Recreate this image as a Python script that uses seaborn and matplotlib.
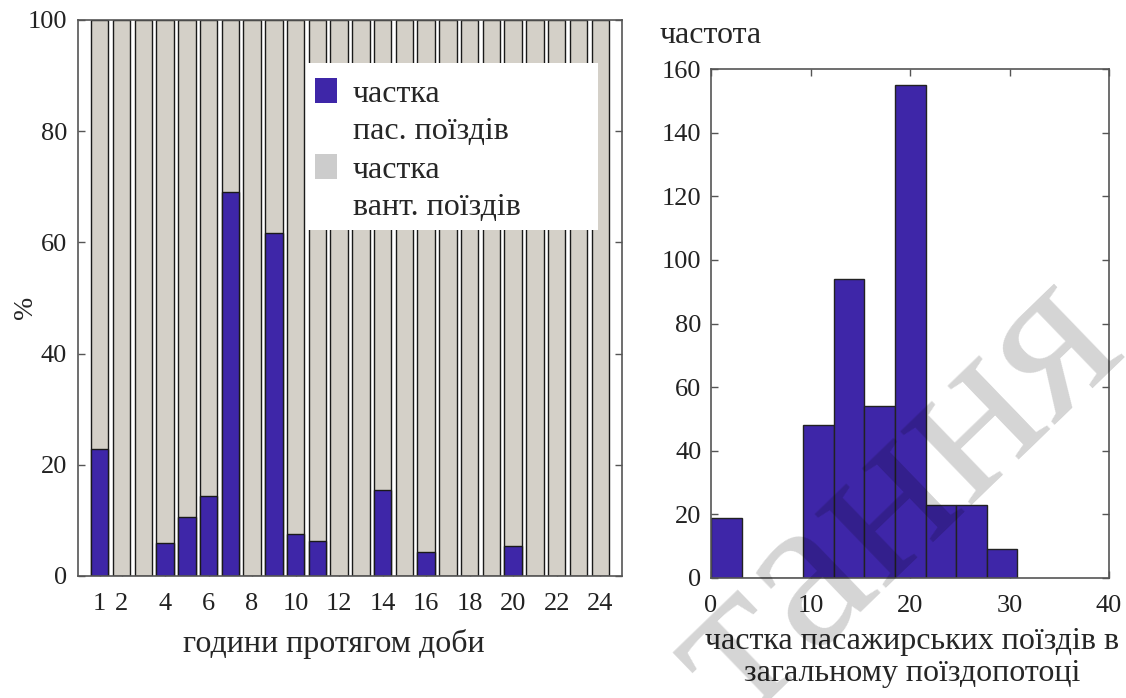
import numpy as np
import pandas as pd
import seaborn as sns
import matplotlib
matplotlib.use("Agg")
import matplotlib.pyplot as plt
from matplotlib.patches import Patch, Rectangle
from matplotlib.legend_handler import HandlerPatch

# ---- data -------------------------------------------------------------
hours = list(range(1, 25))
# share of passenger trains per hour of the day, %
passenger_share = [22.8, 0, 0, 6.0, 10.7, 14.4, 69.1, 0, 61.7, 7.5, 6.3, 0,
                   0, 15.5, 0, 4.3, 0, 0, 0, 5.4, 0, 0, 0, 0]
hour_ticks = [1, 2, 4, 6, 8, 10, 12, 14, 16, 18, 20, 22, 24]

# histogram of passenger share: 10 equal bins over [0, 30.8]
hist_edges = list(np.linspace(0, 30.8, 11))
hist_counts = [19, 0, 0, 48, 94, 54, 155, 23, 23, 9]

legend_labels = ["частка\nпас. поїздів", "частка\nвант. поїздів"]

# ---- style ------------------------------------------------------------
sns.set_style("ticks")
plt.rcParams["font.family"] = ["Liberation Serif", "DejaVu Serif"]

BLUE = "#3E26A8"
GRAY = "#D4D0C8"
LEG_GRAY = "#CCCCCC"
EDGE = "#1a1a1a"
SPINE = "#555555"
TICK_FS = 19
LABEL_FS = 23

W, H = 1126, 698
fig = plt.figure(figsize=(W / 100, H / 100), dpi=100)
ax1 = fig.add_axes([78 / W, 1 - 576 / H, 544 / W, 556 / H])
ax2 = fig.add_axes([711 / W, 1 - 578 / H, 398 / W, 509 / H])

# ---- left: stacked share of passenger / freight trains -----------------
df = pd.DataFrame({"hour": hours, "pass": passenger_share})
df["total"] = 100.0

sns.barplot(data=df, x="hour", y="total", native_scale=True, width=0.8,
            color=GRAY, saturation=1, edgecolor=EDGE, linewidth=1.0,
            errorbar=None, ax=ax1)
sns.barplot(data=df, x="hour", y="pass", native_scale=True, width=0.8,
            color=BLUE, saturation=1, edgecolor=EDGE, linewidth=1.0,
            errorbar=None, ax=ax1)

ax1.set_xlim(0, 25)
ax1.set_ylim(0, 100)
ax1.set_xticks(hour_ticks)
ax1.set_xticklabels([str(t) for t in hour_ticks])
ax1.set_yticks(range(0, 101, 20))
ax1.set_xlabel("години протягом доби", fontsize=LABEL_FS)
ax1.xaxis.set_label_coords(0.4697, -0.096)
ax1.set_ylabel("%", fontsize=20)
ax1.yaxis.set_label_coords(-0.0735, 0.483)

# white panel behind the legend
ax1.add_patch(Rectangle((0.423, 0.622), 0.533, 0.301, transform=ax1.transAxes,
                        facecolor="white", edgecolor="none", zorder=5))


def raised_patch(legend, orig_handle, xdescent, ydescent, width, height, fontsize):
    # put the swatch next to the first line of a two-line label
    return Rectangle((-xdescent, -ydescent + 0.7 * fontsize), width, height)


handles = [Patch(facecolor=BLUE, edgecolor="none"),
           Patch(facecolor=LEG_GRAY, edgecolor="none")]
leg = ax1.legend(handles, legend_labels, loc="upper left",
                 bbox_to_anchor=(0.4357, 0.892), fontsize=LABEL_FS,
                 frameon=False, handlelength=0.69, handleheight=0.85,
                 handletextpad=0.5, labelspacing=0.3, borderpad=0,
                 borderaxespad=0,
                 handler_map={Patch: HandlerPatch(patch_func=raised_patch)})
leg.set_zorder(6)
for t in leg.get_texts():
    t.set_linespacing(1.37)

# ---- right: histogram of passenger share -------------------------------
centers = [(hist_edges[i] + hist_edges[i + 1]) / 2 for i in range(len(hist_counts))]
sns.histplot(x=centers, weights=hist_counts, bins=hist_edges, ax=ax2,
             color=BLUE, alpha=1, edgecolor="#222222", linewidth=1.0)
ax2.set_xlim(0, 40)
ax2.set_ylim(0, 160)
ax2.set_xticks(range(0, 41, 10))
ax2.set_yticks(range(0, 161, 20))
ax2.set_ylabel("")
ax2.set_xlabel("частка пасажирських поїздів в\nзагальному поїздопотоці",
               fontsize=LABEL_FS, linespacing=1.15)
ax2.xaxis.set_label_coords(0.505, -0.0953)
fig.text(660 / W, 1 - 43 / H, "частота", fontsize=LABEL_FS,
         ha="left", va="baseline")

# ---- shared axis styling ----------------------------------------------
for ax, ypad in ((ax1, 8), (ax2, 7)):
    for s in ax.spines.values():
        s.set_visible(True)
        s.set_color(SPINE)
        s.set_linewidth(1.2)
    ax.tick_params(direction="in", length=5, width=1.0, color=SPINE,
                   top=True, right=True, labelsize=TICK_FS, labelcolor="#222222")
    ax.tick_params(axis="x", pad=12)
    ax.tick_params(axis="y", pad=ypad)

# faint diagonal stamp across the right panel
fig.text(897 / W, 1 - 500 / H, "тання", fontsize=160, color="black",
         alpha=0.17, rotation=44, ha="center", va="center",
         rotation_mode="anchor", zorder=10)

fig.savefig("out.png", dpi=100)
